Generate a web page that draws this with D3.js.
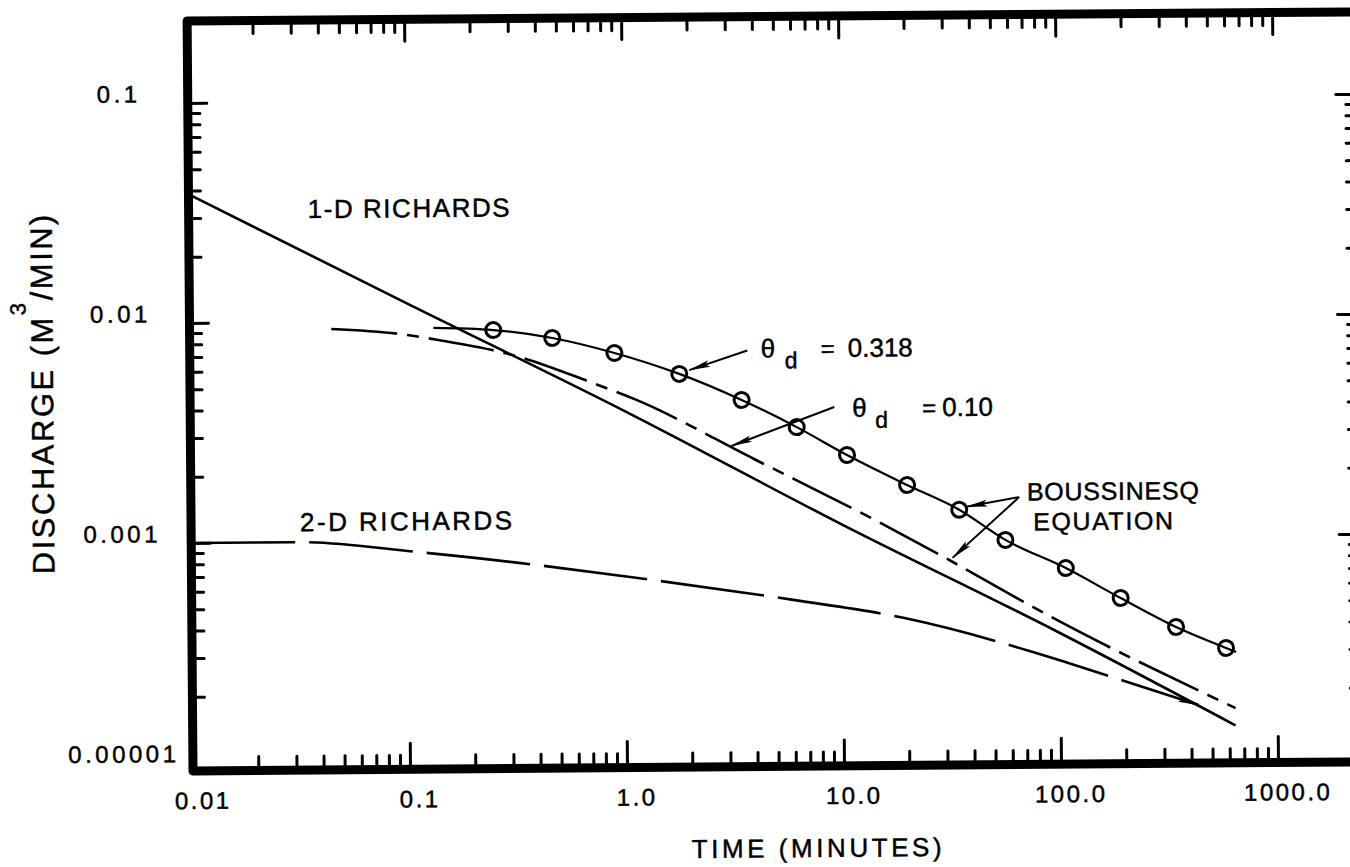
<!DOCTYPE html>
<html><head><meta charset="utf-8">
<script src="https://cdn.jsdelivr.net/npm/d3@7"></script>
<style>
html,body{margin:0;padding:0;background:#fff;}
svg{display:block;background:#fff;}
text{font-family:"Liberation Sans",Arial,Helvetica,sans-serif;fill:#000;stroke:#000;stroke-width:0.45;}
</style></head><body>
<svg id="chart" width="1350" height="867"></svg>
<script>
// ---------------- data ----------------
const xTickValues = [0.01, 0.1, 1, 10, 100, 1000];
const xTickLabels = ["0.01", "0.1", "1.0", "10.0", "100.0", "1000.0"];
const yTickValues = [0.1, 0.01, 0.001, 0.0001];
const yTickLabels = ["0.1", "0.01", "0.001", "0.00001"];

// 1-D Richards (solid line)
const richards1DTime = [0.01, 0.1, 1, 10, 100, 640];
const richards1DQ    = [0.0385, 0.0121, 0.00385, 0.00115, 0.000363, 0.000136];

// Boussinesq, theta_d = 0.10 (dash-dot line)
const bous010Time = [0.045, 0.0927, 0.14, 0.33, 0.695, 1.14, 3.95, 15.7, 29.9, 91.2, 641];
const bous010Q    = [0.00929, 0.00877, 0.0082, 0.00683, 0.00523, 0.00431, 0.0023, 0.00114, 0.000803, 0.00043, 0.000163];

// Boussinesq, theta_d = 0.318 (line with open circles)
const bous318Time = [0.251, 0.469, 0.906, 1.80, 3.48, 6.23, 10.6, 20.0, 34.7, 56.5, 107, 191, 343, 582];
const bous318Q    = [0.00906, 0.0083, 0.00706, 0.00564, 0.00427, 0.0032, 0.00238, 0.00173, 0.00133, 0.000966, 0.000716, 0.000521, 0.000383, 0.000306];
const bous318LineTime = [0.133, 0.251, 0.469, 0.906, 1.80, 3.48, 6.23, 10.6, 20.0, 34.7, 56.5, 107, 191, 343, 582, 647];
const bous318LineQ    = [0.00931, 0.00906, 0.0083, 0.00706, 0.00564, 0.00427, 0.0032, 0.00238, 0.00173, 0.00133, 0.000966, 0.000716, 0.000521, 0.000383, 0.000306, 0.000293];

// 2-D Richards (long dashes)
const richards2DTime = [0.01, 0.0311, 0.111, 0.387, 1.14, 5.92, 19.0, 77.6, 109, 283, 433];
const richards2DQ    = [0.001, 0.001, 0.000893, 0.000773, 0.000668, 0.000525, 0.000431, 0.000295, 0.000265, 0.000194, 0.000169];

// annotation arrows in data units: [tailTime, tailQ, tipTime, tipQ]
const arrow318   = [3.71, 0.00716, 2.0, 0.00586];
const arrow010   = [9.3, 0.00394, 3.11, 0.00264];
const arrowBousA = [65.6, 0.00151, 37.4, 0.00137];
const arrowBousB = [65.6, 0.00151, 32.2, 0.000804];

// ---------------- layout ----------------
const padL = 193, padR = 1365, padT = 21, padB = 771;
const svg = d3.select("#chart");

const defs = svg.append("defs");
defs.append("marker").attr("id", "ah")
  .attr("markerUnits", "userSpaceOnUse")
  .attr("viewBox", "0 0 22 8").attr("refX", 21).attr("refY", 4)
  .attr("markerWidth", 22).attr("markerHeight", 8).attr("orient", "auto")
  .append("path").attr("d", "M0,0.6 L22,4 L0,7.4 L4,4 Z").attr("fill", "#000");

const g = svg.append("g").attr("transform", `rotate(-0.45,${padL},${padB})`);

const x = d3.scaleLog().domain([0.01, 1000]).range([193, 1278]);
const y = d3.scaleLog().domain([0.1, 0.0001]).range([103, 763]);

const xAll = x.ticks().filter(d => d >= 0.01 && d <= 1000.0001);
const xMinor = xAll.filter(d => !xTickValues.some(v => Math.abs(v - d) / v < 1e-6));
const yAll = y.ticks().filter(d => d >= 0.0001 && d <= 0.1000001);
const yMinor = yAll.filter(d => !yTickValues.some(v => Math.abs(v - d) / v < 1e-6));

function styleTicks(sel) {
  sel.select(".domain").remove();
  sel.selectAll(".tick line").attr("stroke", "#000").attr("stroke-width", 3).attr("stroke-linecap", "round");
}
// bottom
g.append("g").attr("transform", `translate(0,${padB})`)
  .call(d3.axisBottom(x).tickValues(xMinor).tickSize(-14).tickFormat("")).call(styleTicks);
g.append("g").attr("transform", `translate(0,${padB})`)
  .call(d3.axisBottom(x).tickValues(xTickValues).tickSize(-26).tickFormat("")).call(styleTicks);
// top
g.append("g").attr("transform", `translate(0,${padT})`)
  .call(d3.axisTop(x).tickValues(xMinor).tickSize(-13).tickFormat("")).call(styleTicks);
g.append("g").attr("transform", `translate(0,${padT})`)
  .call(d3.axisTop(x).tickValues(xTickValues).tickSize(-22).tickFormat("")).call(styleTicks);
// left
g.append("g").attr("transform", `translate(${padL},0)`)
  .call(d3.axisLeft(y).tickValues(yMinor).tickSize(-12).tickFormat("")).call(styleTicks);
g.append("g").attr("transform", `translate(${padL},0)`)
  .call(d3.axisLeft(y).tickValues(yTickValues.slice(0, 3)).tickSize(-19).tickFormat("")).call(styleTicks);
// right
g.append("g").attr("transform", `translate(${padR},0)`)
  .call(d3.axisRight(y).tickValues(yMinor).tickSize(-14).tickFormat("")).call(styleTicks);
g.append("g").attr("transform", `translate(${padR},0)`)
  .call(d3.axisRight(y).tickValues(yTickValues.slice(0, 3)).tickSize(-24).tickFormat("")).call(styleTicks);

// frame
g.append("path")
  .attr("d", `M${padR},${padT} H${padL} V${padB} H${padR}`)
  .attr("fill", "none").attr("stroke", "#000").attr("stroke-width", 9)
  .attr("stroke-linejoin", "round");

// tick labels
g.append("g").selectAll("text").data(xTickValues).join("text")
  .attr("x", d => x(d) + 10).attr("y", 809)
  .attr("text-anchor", "middle").attr("font-size", 24).attr("letter-spacing", 2.5)
  .text((d, i) => xTickLabels[i]);
g.append("g").selectAll("text").data(yTickValues).join("text")
  .attr("x", 124).attr("y", d => y(d) - 1)
  .attr("text-anchor", "middle").attr("font-size", 24).attr("letter-spacing", 3.5)
  .text((d, i) => yTickLabels[i]);

// axis titles
g.append("text").attr("x", 816).attr("y", 862).attr("text-anchor", "middle")
  .attr("font-size", 26).attr("textLength", 250).attr("lengthAdjust", "spacing")
  .text("TIME (MINUTES)");
const yt = g.append("text").attr("transform", "translate(56,392) rotate(-90)")
  .attr("text-anchor", "middle").attr("font-size", 31).attr("letter-spacing", 2.5);
yt.append("tspan").text("DISCHARGE (M");
yt.append("tspan").attr("font-size", 22).attr("dy", -27).text("3");
yt.append("tspan").attr("dy", 27).text("/MIN)");

// curves
const lineGen = d3.line().x(d => x(d[0])).y(d => y(d[1])).curve(d3.curveMonotoneX);
const zip = (a, b) => a.map((v, i) => [v, b[i]]);

g.append("path").datum(zip(richards1DTime, richards1DQ))
  .attr("d", lineGen).attr("fill", "none").attr("stroke", "#000").attr("stroke-width", 2.6);

g.append("path").datum(zip(bous010Time, bous010Q))
  .attr("d", lineGen).attr("fill", "none").attr("stroke", "#000").attr("stroke-width", 2.6)
  .attr("stroke-dasharray", "66,10,12,10");

g.append("path").datum(zip(richards2DTime, richards2DQ))
  .attr("d", lineGen).attr("fill", "none").attr("stroke", "#000").attr("stroke-width", 2.6)
  .attr("stroke-dasharray", "104,14").attr("marker-end", "url(#ah)");

g.append("path").datum(zip(bous318LineTime, bous318LineQ))
  .attr("d", lineGen).attr("fill", "none").attr("stroke", "#000").attr("stroke-width", 2.2);

g.append("g").selectAll("circle").data(zip(bous318Time, bous318Q)).join("circle")
  .attr("cx", d => x(d[0])).attr("cy", d => y(d[1])).attr("r", 7.5)
  .attr("fill", "none").attr("stroke", "#000").attr("stroke-width", 3);

// annotation arrows
[arrow318, arrow010, arrowBousA, arrowBousB].forEach(a => {
  g.append("line")
    .attr("x1", x(a[0])).attr("y1", y(a[1])).attr("x2", x(a[2])).attr("y2", y(a[3]))
    .attr("stroke", "#000").attr("stroke-width", 2).attr("marker-end", "url(#ah)");
});

// curve labels
g.append("text").attr("x", 312).attr("y", 219).attr("font-size", 26)
  .attr("textLength", 202).attr("lengthAdjust", "spacing").text("1-D RICHARDS");
g.append("text").attr("x", 302).attr("y", 532).attr("font-size", 26)
  .attr("textLength", 212).attr("lengthAdjust", "spacing").text("2-D RICHARDS");

// theta labels
g.append("text").attr("x", 764).attr("y", 362).attr("font-size", 26).text("θ");
g.append("text").attr("x", 788).attr("y", 373).attr("font-size", 23).text("d");
g.append("text").attr("x", 824).attr("y", 362).attr("font-size", 24).text("=");
g.append("text").attr("x", 851).attr("y", 362).attr("font-size", 26).text("0.318");

g.append("text").attr("x", 855).attr("y", 422).attr("font-size", 26).text("θ");
g.append("text").attr("x", 878).attr("y", 433).attr("font-size", 23).text("d");
g.append("text").attr("x", 925).attr("y", 422).attr("font-size", 24).text("=");
g.append("text").attr("x", 945).attr("y", 422).attr("font-size", 26).text("0.10");

g.append("text").attr("x", 1029).attr("y", 507).attr("font-size", 25)
  .attr("textLength", 172).attr("lengthAdjust", "spacing").text("BOUSSINESQ");
g.append("text").attr("x", 1035).attr("y", 537).attr("font-size", 25)
  .attr("textLength", 140).attr("lengthAdjust", "spacing").text("EQUATION");
</script>
</body></html>
